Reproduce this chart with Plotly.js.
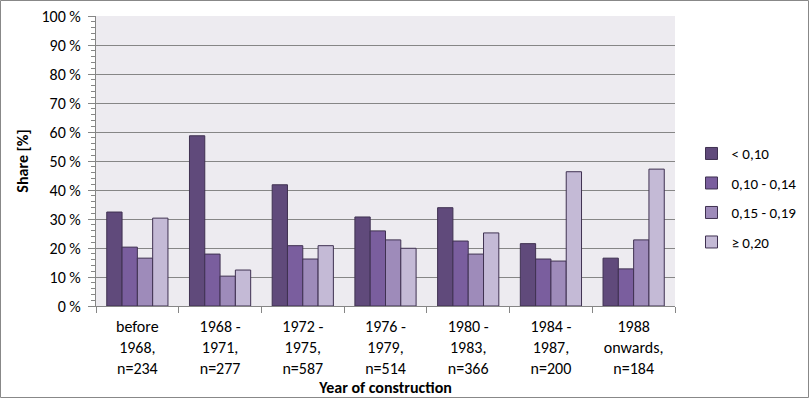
<!DOCTYPE html>
<html><head><meta charset="utf-8">
<script src="https://cdn.plot.ly/plotly-3.0.1.min.js"></script>
<style>html,body{margin:0;padding:0;background:#fff;}#chart{width:811px;height:400px;}</style>
</head><body><div id="chart"></div>
<script>
const categories = ["before<br>1968,<br>n=234","1968 -<br>1971,<br>n=277","1972 -<br>1975,<br>n=587","1976 -<br>1979,<br>n=514","1980 -<br>1983,<br>n=366","1984 -<br>1987,<br>n=200","1988<br>onwards,<br>n=184"];
const seriesNames = ["< 0,10","0,10 - 0,14","0,15 - 0,19","≥ 0,20"];
const s1 = [32.4, 58.7, 41.8, 30.7, 33.9, 21.5, 16.5];
const s2 = [20.3, 17.9, 20.8, 25.9, 22.4, 16.2, 12.8];
const s3 = [16.5, 10.3, 16.2, 22.8, 17.9, 15.5, 22.8];
const s4 = [30.3, 12.4, 20.8, 19.9, 25.2, 46.3, 47.2];
const colors = ["#604A7B","#7A5E9E","#9E8BBA","#C4BAD6"];
const series = [s1,s2,s3,s4];
const font = "Carlito, Lato, 'Liberation Sans', sans-serif";
const traces = series.map((v,i)=>({
  type:"bar", x:categories, y:v, name:seriesNames[i], legendgroup:"g"+i,
  marker:{color:colors[i], line:{color:"#3F3151", width:1}},
  hoverinfo:"y"
}));
const layout = {
  width:811, height:400,
  margin:{l:96, r:136, t:16, b:94, autoexpand:false},
  paper_bgcolor:"#ffffff", plot_bgcolor:"#EDEBF0",
  font:{family:font, size:16, color:"#000"},
  barmode:"group", bargap:0.26, bargroupgap:0,
  xaxis:{
    showline:true, linecolor:"#868686", linewidth:1,
    ticks:"outside", tickson:"boundaries", ticklen:6, tickcolor:"#868686",
    ticklabelstandoff:6,
    tickfont:{size:16, family:font}, automargin:false,
    title:{text:"<b>Year of construction</b>", font:{size:16, family:font}, standoff:0}
  },
  yaxis:{
    range:[0,100], dtick:10, ticksuffix:" %", showline:true, linecolor:"#868686", linewidth:1,
    ticks:"outside", ticklen:7, tickcolor:"#868686", ticklabelstandoff:4,
    gridcolor:"#868686", gridwidth:1, zeroline:false,
    minor:{dtick:2, ticks:"outside", ticklen:4, tickcolor:"#868686", showgrid:false},
    tickfont:{size:16, family:font}, automargin:false,
    title:{text:"<b>Share [%]</b>", font:{size:16, family:font}, standoff:8}
  },
  legend:{x:1.0285, y:0.582, xanchor:"left", yanchor:"top", font:{size:15, family:font},
    traceorder:"grouped", tracegroupgap:7, bgcolor:"rgba(0,0,0,0)"},
  shapes:[{type:"rect", xref:"paper", yref:"paper", x0:-95.5/579, x1:(808.5-96)/579, y0:-91.5/290, y1:(306-0.5)/290,
    line:{color:"#888888", width:1}, fillcolor:"rgba(0,0,0,0)", layer:"below"}]
};
Plotly.newPlot("chart", traces, layout, {displayModeBar:false, staticPlot:true});
</script></body></html>
